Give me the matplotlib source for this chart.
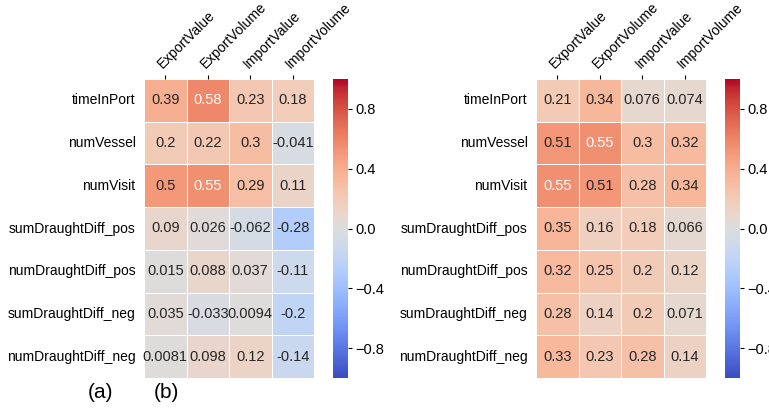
import matplotlib.pyplot as plt
import numpy as np
import seaborn as sns

plt.rcParams['font.family'] = ['Liberation Sans', 'DejaVu Sans']

# 行、列标签
rows = ["timeInPort", "numVessel", "numVisit", "sumDraughtDiff_pos",
        "numDraughtDiff_pos", "sumDraughtDiff_neg", "numDraughtDiff_neg"]
cols = ["ExportValue", "ExportVolume", "ImportValue", "ImportVolume"]

# 左图相关系数
corr_a = [[0.39, 0.58, 0.23, 0.18],
          [0.2, 0.22, 0.3, -0.041],
          [0.5, 0.55, 0.29, 0.11],
          [0.09, 0.026, -0.062, -0.28],
          [0.015, 0.088, 0.037, -0.11],
          [0.035, -0.033, 0.0094, -0.2],
          [0.0081, 0.098, 0.12, -0.14]]

# 右图相关系数
corr_b = [[0.21, 0.34, 0.076, 0.074],
          [0.51, 0.55, 0.3, 0.32],
          [0.55, 0.51, 0.28, 0.34],
          [0.35, 0.16, 0.18, 0.066],
          [0.32, 0.25, 0.2, 0.12],
          [0.28, 0.14, 0.2, 0.071],
          [0.33, 0.23, 0.28, 0.14]]

W, H = 769, 413
fig = plt.figure(figsize=(W / 100, H / 100), dpi=100)

def px(x0, y0, x1, y1):
    return [x0 / W, 1 - y1 / H, (x1 - x0) / W, (y1 - y0) / H]

panels = [(corr_a, px(144, 79, 314, 378), px(333, 79, 348, 378)),
          (corr_b, px(536, 79, 706, 378), px(725, 79, 740, 378))]

for data, pos, cpos in panels:
    ax = fig.add_axes(pos)
    cax = fig.add_axes(cpos)
    sns.heatmap(np.array(data), ax=ax, cbar_ax=cax, cmap="coolwarm",
                vmin=-1, vmax=1, annot=True, fmt=".2g",
                annot_kws={"fontsize": 10.5},
                linewidths=0.6, linecolor="white",
                xticklabels=cols, yticklabels=rows)
    ax.xaxis.tick_top()
    ax.tick_params(axis="x", length=3, pad=3, labelsize=10)
    ax.tick_params(axis="y", length=0, pad=6, labelsize=10)
    plt.setp(ax.get_xticklabels(), rotation=45, ha="left",
             rotation_mode="anchor")
    plt.setp(ax.get_yticklabels(), rotation=0)
    cax.set_yticks([-0.8, -0.4, 0.0, 0.4, 0.8])
    cax.tick_params(length=3, pad=2, labelsize=10.5)

fig.text(101 / W, 1 - 393 / H, "(a)", ha="center", va="center", fontsize=15)
fig.text(166 / W, 1 - 393 / H, "(b)", ha="center", va="center", fontsize=15)

fig.savefig("out.png", dpi=100)
